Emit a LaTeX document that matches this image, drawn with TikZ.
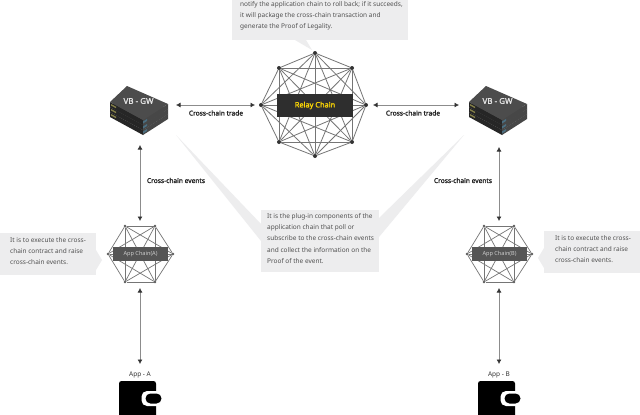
\documentclass[tikz,border=0pt]{standalone}
\usepackage{fontspec}
\setmainfont{Noto Sans}
\newfontfamily\labfont[FakeBold=1.6]{Noto Sans}
\usetikzlibrary{arrows.meta}
\definecolor{bub}{HTML}{EDEDEE}
\definecolor{bartop}{HTML}{2E2E2E}
\definecolor{appbar}{HTML}{555555}
\definecolor{meshln}{HTML}{757575}
\definecolor{txt}{HTML}{505050}
\tikzset{
  bubble/.style={fill=bub,draw=none},
  bubtext/.style={inner sep=0pt,anchor=north west,align=left,text=txt,font=\fontsize{6.5}{11.35}\selectfont},
  flow/.style={draw=black!45,line width=.7pt,{Latex[length=4.5pt,width=5pt,black!80]}-{Latex[length=4.5pt,width=5pt,black!80]}},
  bold label/.style={inner sep=0pt,font=\fontsize{6.6}{8}\labfont,text=black!85},
  mesh/.style={draw=meshln,line width=.8pt},
  dotbig/.style={circle,fill=black!80,inner sep=0pt,minimum size=4pt},
  dotsmall/.style={circle,fill=black!65,inner sep=0pt,minimum size=2.6pt},
}
\newcommand{\vbgw}[3]{%
 \begin{scope}[shift={(#1,#2)}]
  \foreach \dy in {10,5,0}{
   \fill[black!85] (-30,2+\dy) -- (3,20+\dy) -- (3,25+\dy) -- (-30,7+\dy) -- cycle;
   \fill[black!72] (3,20+\dy) -- (28,4+\dy) -- (28,9+\dy) -- (3,25+\dy) -- cycle;
   \fill[black!70] (-30,2+\dy) -- (-13,-14+\dy) -- (28,4+\dy) -- (3,20+\dy) -- cycle;
   \fill[yellow!45!black] (-29,4+\dy) -- (-24,6.7+\dy) -- (-24,8.2+\dy) -- (-29,5.5+\dy) -- cycle;
   \fill[cyan!45!black] (3,21.5+\dy) -- (7,19+\dy) -- (7,21+\dy) -- (3,23.5+\dy) -- cycle;
  }
  \node[inner sep=0pt,text=white!90!black,font=\fontsize{8}{10}\labfont] (#3) at (-1.5,1) {VB - GW};
 \end{scope}}
\newcommand{\wallet}[3]{%
 \fill[black,rounded corners=2.5pt] (#1,381) rectangle (#1+37,418);
 \fill[white,rounded corners=5.5pt] (#1+22.5,391) rectangle (#1+44,406);
 \node[fill=black,rounded corners=5pt,inner sep=0pt,minimum width=16pt,minimum height=10pt] (#3) at (#1+34.5,398.5) {};
}
\begin{document}
\begin{tikzpicture}[x=1pt,y=-1pt]
\useasboundingbox (0,0) rectangle (640,415);
\fill[white] (0,0) rectangle (640,415);
% bubbles
\fill[bubble] (232,-1) rectangle (408,40);
\fill[bubble] (295,40) -- (312,50) -- (306,40) -- cycle;
\node[bubtext] (t1) at (240,1) {notify the application chain to roll back; if it succeeds,\\it will package the cross-chain transaction and\\generate the Proof of Legality.};
\fill[bubble] (261,210) rectangle (379,272);
\fill[bubble] (261,224) -- (176,135) -- (261,241) -- cycle;
\fill[bubble] (379,218) -- (464,135) -- (379,237) -- cycle;
\node[bubtext] (t2) at (267,213) {It is the plug-in components of the\\application chain that poll or\\subscribe to the cross-chain events\\and collect the information on the\\Proof of the event.};
\fill[bubble] (0,233) rectangle (96,275);
\fill[bubble] (96,250) -- (102,260) -- (96,270) -- cycle;
\node[bubtext] (t3) at (10,237) {It is to execute the cross-\\chain contract and raise\\cross-chain events.};
\fill[bubble] (544,231) rectangle (640,273);
\fill[bubble] (544,248) -- (538,258) -- (544,268) -- cycle;
\node[bubtext] (t4) at (555,235) {It is to execute the cross-\\chain contract and raise\\cross-chain events.};
% relay mesh
\foreach \n/\x/\y in {0/315/53,1/352/68,2/366/105,3/352/142,4/315/156,5/279/142,6/261/105,7/279/68}
  \node[dotbig] (r\n) at (\x,\y) {};
\foreach \a in {0,...,7}{\foreach \b in {0,...,7}{
  \ifnum\a<\b \draw[mesh] (r\a) -- (r\b); \fi}}
\node[fill=bartop,inner sep=0pt,minimum width=76pt,minimum height=23pt,text=yellow!75!orange,font=\fontsize{7.4}{9}\labfont] (relay) at (315,105.5) {Relay Chain};
% app chains
\foreach \s/\cx/\lab in {a/140/A,b/499/B}{
  \foreach \n/\dx/\dy in {0/-15/-28,1/15/-28,2/33/0,3/15/28,4/-15/28,5/-32/0}
    \node[dotsmall] (\s\n) at (\cx+\dx,254+\dy) {};
  \foreach \a in {0,...,5}{\foreach \b in {0,...,5}{
    \ifnum\a<\b \draw[mesh,line width=.7pt] (\s\a) -- (\s\b); \fi}}
  \node[fill=appbar,inner sep=0pt,minimum width=55pt,minimum height=14.5pt,text=white!80!black,font=\fontsize{5.6}{8}\selectfont] (chain\s) at (\cx+.5,254) {App Chain(\lab)};
}
% gateways
\vbgw{140}{100}{gwl}
\vbgw{499}{100}{gwr}
% wallets
\wallet{119}{A}{wa}
\wallet{478}{B}{wb}
\node[inner sep=0pt,text=black!80,font=\fontsize{6.5}{8}\selectfont] (la) at (140,374.5) {App - A};
\node[inner sep=0pt,text=black!80,font=\fontsize{6.5}{8}\selectfont] (lb) at (499,374.5) {App - B};
% connector anchors
\foreach \n/\x/\y in {p1/176/105,p2/255/105,p3/373/105,p4/459/105,
  q1/140/145,q2/140/221,q3/140/288,q4/140/364,
  q5/499/147,q6/499/221,q7/499/288,q8/499/364}
  \coordinate (\n) at (\x,\y);
\draw[flow] (p1) -- (p2);
\draw[flow] (p3) -- (p4);
\draw[flow] (q1) -- (q2);
\draw[flow] (q3) -- (q4);
\draw[flow] (q5) -- (q6);
\draw[flow] (q7) -- (q8);
\node[bold label] (c1) at (216,113) {Cross-chain trade};
\node[bold label] (c2) at (413,113) {Cross-chain trade};
\node[bold label] (c3) at (176,180.5) {Cross-chain events};
\node[bold label] (c4) at (463,180.5) {Cross-chain events};
\end{tikzpicture}
\end{document}
